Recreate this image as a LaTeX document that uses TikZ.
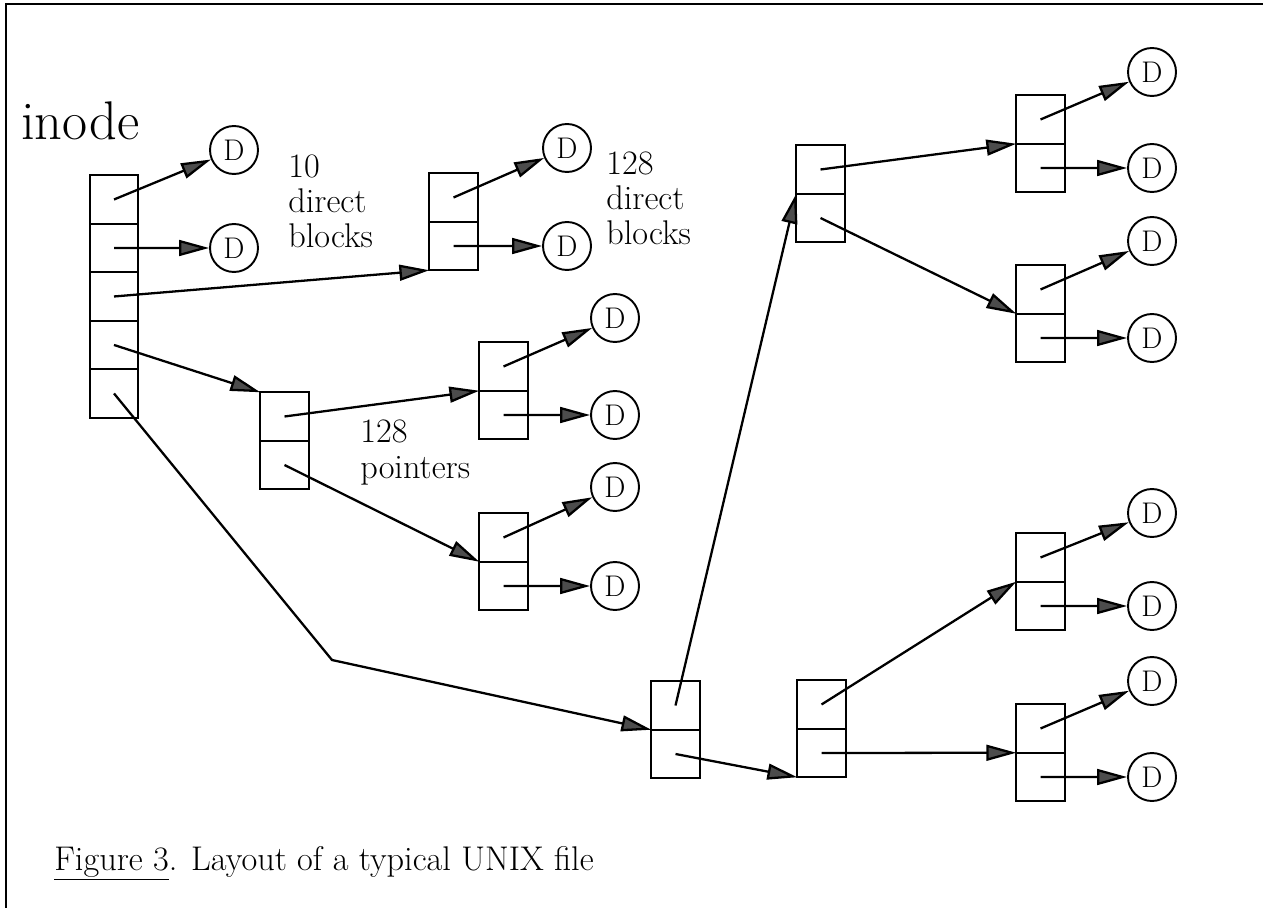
\documentclass[tikz,border=0pt]{standalone}
\usepackage{fontspec}
\usetikzlibrary{positioning,arrows.meta}

\begin{document}
\begin{tikzpicture}[x=0.02cm, y=-0.02cm,
    cell/.style={draw, line width=1.3pt, minimum width=0.97cm, minimum height=0.97cm, inner sep=0pt, outer sep=0pt},
    dblk/.style={draw, circle, line width=1.1pt, minimum size=0.96cm, inner sep=0pt, font=\fontsize{17}{18}\selectfont},
    ptr/.style={line width=1.3pt, -{Triangle[length=17pt, width=9pt, fill=black!70]}},
    lbl/.style={align=left, anchor=base west, inner sep=0pt, font=\fontsize{19.5}{20}\selectfont}]
    \useasboundingbox (0,0) rectangle (1263,908);
    \draw[line width=1.3pt] (6,908) -- (6,4) -- (1263,4);

    % inode
    \node[anchor=base west, inner sep=0pt, font=\fontsize{31}{34}\selectfont] (ttl) at (21,140) {inode};
    \node[cell] (in1) at (114,199.5) {};
    \node[cell, below=0pt of in1] (in2) {};
    \node[cell, below=0pt of in2] (in3) {};
    \node[cell, below=0pt of in3] (in4) {};
    \node[cell, below=0pt of in4] (in5) {};

    % indirect blocks
    \node[cell] (b1a) at (453.5,197.5) {};
    \node[cell, below=0pt of b1a] (b1b) {};
    \node[cell] (b2a) at (284.5,416.5) {};
    \node[cell, below=0pt of b2a] (b2b) {};
    \node[cell] (b3a) at (503.5,366.5) {};
    \node[cell, below=0pt of b3a] (b3b) {};
    \node[cell] (b4a) at (503.5,537.5) {};
    \node[cell, below=0pt of b4a] (b4b) {};
    \node[cell] (ca) at (675.5,705.5) {};
    \node[cell, below=0pt of ca] (cb) {};
    \node[cell] (b5a) at (820.5,169.5) {};
    \node[cell, below=0pt of b5a] (b5b) {};
    \node[cell] (b6a) at (1040.5,119.5) {};
    \node[cell, below=0pt of b6a] (b6b) {};
    \node[cell] (b7a) at (1040.5,289.5) {};
    \node[cell, below=0pt of b7a] (b7b) {};
    \node[cell] (ea) at (821.5,704.5) {};
    \node[cell, below=0pt of ea] (eb) {};
    \node[cell] (b8a) at (1040.5,557.5) {};
    \node[cell, below=0pt of b8a] (b8b) {};
    \node[cell] (b9a) at (1040.5,728.5) {};
    \node[cell, below=0pt of b9a] (b9b) {};

    % data blocks
    \node[dblk] (d1) at (234,150) {D};
    \node[dblk] (d2) at (234,248) {D};
    \node[dblk] (d3) at (567,148) {D};
    \node[dblk] (d4) at (567,246) {D};
    \node[dblk] (d5) at (615,318) {D};
    \node[dblk] (d6) at (615,415) {D};
    \node[dblk] (d7) at (615,487) {D};
    \node[dblk] (d8) at (615,586) {D};
    \node[dblk] (d9) at (1152,72) {D};
    \node[dblk] (d10) at (1152,168) {D};
    \node[dblk] (d11) at (1152,241) {D};
    \node[dblk] (d12) at (1152,338) {D};
    \node[dblk] (d13) at (1152,513) {D};
    \node[dblk] (d14) at (1152,606) {D};
    \node[dblk] (d15) at (1152,681) {D};
    \node[dblk] (d16) at (1152,777) {D};

    % labels (base = last line)
    \node[lbl] (l10) at (288,248) {10\\direct\\blocks};
    \node[lbl] (l128) at (606,245) {128\\direct\\blocks};
    \node[lbl] (lptr) at (360,478) {128\\pointers};
    \node[lbl] (cap) at (54,870) {\underline{Figure 3}. Layout of a typical UNIX file};

    % pointers
    \coordinate (bend) at (332,660);
    \draw[ptr] (in1.center) -- (d1);
    \draw[ptr] (in2.center) -- (d2);
    \draw[ptr] (in3.center) -- (b1b.south west);
    \draw[ptr] (in4.center) -- (b2a.north west);
    \draw[ptr] (in5.center) -- (bend) -- (ca.south west);
    \draw[ptr] (b1a.center) -- (d3);
    \draw[ptr] (b1b.center) -- (d4);
    \draw[ptr] (b2a.center) -- (b3a.south west);
    \draw[ptr] (b2b.center) -- (b4a.south west);
    \draw[ptr] (b3a.center) -- (d5);
    \draw[ptr] (b3b.center) -- (d6);
    \draw[ptr] (b4a.center) -- (d7);
    \draw[ptr] (b4b.center) -- (d8);
    \draw[ptr] (ca.center) -- (b5a.south west);
    \draw[ptr] (cb.center) -- (eb.south west);
    \draw[ptr] (b5a.center) -- (b6a.south west);
    \draw[ptr] (b5b.center) -- (b7a.south west);
    \draw[ptr] (b6a.center) -- (d9);
    \draw[ptr] (b6b.center) -- (d10);
    \draw[ptr] (b7a.center) -- (d11);
    \draw[ptr] (b7b.center) -- (d12);
    \draw[ptr] (ea.center) -- (b8a.south west);
    \draw[ptr] (eb.center) -- (b9a.south west);
    \draw[ptr] (b8a.center) -- (d13);
    \draw[ptr] (b8b.center) -- (d14);
    \draw[ptr] (b9a.center) -- (d15);
    \draw[ptr] (b9b.center) -- (d16);
\end{tikzpicture}
\end{document}
